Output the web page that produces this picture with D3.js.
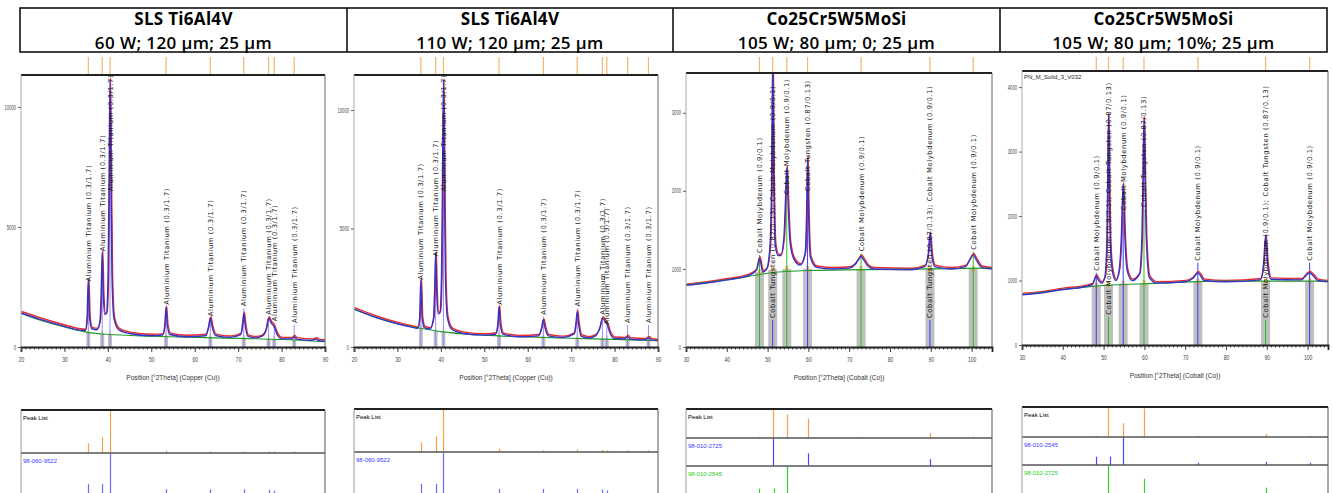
<!DOCTYPE html>
<html>
<head>
<meta charset="utf-8">
<script src="https://cdn.jsdelivr.net/npm/d3@7"></script>
<style>
  body { margin: 0; background: #fff; }
  svg { display: block; }
</style>
</head>
<body>
<div id="viz"></div>
<script>
//-------Header texts-----------
var headTitles = ['SLS Ti6Al4V', 'SLS Ti6Al4V', 'Co25Cr5W5MoSi', 'Co25Cr5W5MoSi'];
var headParams = ['60 W; 120 µm; 25 µm', '110 W; 120 µm; 25 µm', '105 W; 80 µm; 0; 25 µm', '105 W; 80 µm; 10%; 25 µm'];

//-------Panel 1: SLS Ti6Al4V 60 W-----------
var p1XTicks = [20, 30, 40, 50, 60, 70, 80, 90];
var p1YTicks = [0, 5000, 10000];
var p1Profile = [[20,1420],[25,1120],[30,860],[33,720],[34.8,680],[35.2,1200],[35.5,2800],[35.8,1200],[36.3,760],[37.5,720],
  [38.2,1100],[38.45,2200],[38.7,3950],[38.95,2200],[39.3,1350],[39.7,1400],[40.05,3000],[40.3,7500],[40.5,11150],[40.7,7500],
  [40.95,3000],[41.4,1200],[42.5,720],[45,560],[50,470],[52.6,500],[53.1,900],[53.4,1650],[53.7,900],[54.3,520],[58,430],
  [62.5,470],[63.2,850],[63.6,1200],[64.0,850],[64.8,480],[68,400],[70.6,520],[71.0,950],[71.3,1400],[71.6,950],[72.2,450],
  [74,380],[75.5,450],[76.4,700],[77.0,1200],[77.6,1000],[78.3,850],[78.9,550],[80,340],[82.3,340],[82.9,420],[83.5,330],
  [87,280],[87.9,330],[88.6,260],[90,240]];
var p1Background = [[20,1400],[25,1080],[30,830],[35,620],[40,530],[50,450],[60,400],[70,360],[80,310],[90,220]];
var p1Peaks = [35.5, 38.7, 40.5, 53.4, 63.6, 71.3, 77.0, 78.3, 82.9];
var p1LabelAt = [2650, 3900, 6400, 1680, 1200, 1610, 1260, 990, 920];
var p1BarTop = [620, 570, 540, 470, 430, 380, 350, 340, 310];
var p1Labels = p1Peaks.map(function() { return 'Aluminium Titanium (0.3/1.7)'; });
var p1ListI = [23, 37, 100, 6, 4, 4, 4, 3, 2];
var p1RefPos = [35.5, 38.7, 40.5, 53.4, 63.6, 71.3, 77.0, 78.3];
var p1RefI = [34, 34, 100, 23, 23, 23, 22, 20];

//-------Panel 2: SLS Ti6Al4V 110 W-----------
var p2XTicks = [20, 30, 40, 50, 60, 70, 80, 90];
var p2YTicks = [0, 5000, 10000];
var p2Profile = [[20,1600],[25,1250],[30,980],[33,850],[34.7,790],[35.1,1200],[35.4,2830],[35.7,1200],[36.2,820],[37.5,760],
  [38.3,1200],[38.55,2300],[38.8,3970],[39.05,2300],[39.4,1400],[39.8,1450],[40.15,3000],[40.4,7500],[40.6,11270],[40.8,7500],
  [41.05,3000],[41.5,1250],[42.5,750],[45,580],[50,500],[52.6,540],[53.1,950],[53.4,1700],[53.7,950],[54.3,540],[58,430],
  [62.5,470],[63.2,800],[63.6,1140],[64.0,800],[64.8,470],[68,400],[70.7,550],[71.1,1000],[71.4,1490],[71.7,1000],[72.3,460],
  [74,380],[75.5,460],[76.6,800],[77.2,1220],[77.8,1100],[78.4,900],[79.0,560],[80,360],[82.3,340],[83.0,435],[83.6,330],
  [87.1,300],[87.8,390],[88.5,290],[90,270]];
var p2Background = [[20,1600],[25,1250],[30,980],[35,800],[40,650],[50,500],[60,420],[70,370],[80,320],[90,270]];
var p2Peaks = [35.4, 38.8, 40.6, 53.4, 63.6, 71.4, 77.2, 78.2, 83.0, 87.8];
var p2LabelAt = [2755, 3740, 6480, 1700, 1280, 1630, 1280, 860, 930, 930];
var p2BarTop = [800, 680, 650, 500, 440, 380, 350, 340, 310, 290];
var p2Labels = p2Peaks.map(function() { return 'Aluminium Titanium (0.3/1.7)'; });
var p2ListI = [23, 37, 100, 8, 4, 6, 5, 3, 2, 2];
var p2RefPos = [35.4, 38.8, 40.6, 53.4, 63.6, 71.4, 77.2, 78.2];
var p2RefI = [34, 34, 100, 23, 23, 23, 22, 20];

//-------Panel 3: Co25Cr5W5MoSi 0-----------
var p3XTicks = [30, 40, 50, 60, 70, 80, 90, 100];
var p3YTicks = [0, 1000, 2000, 3000];
var p3Profile = [[30,790],[35,820],[40,860],[45,910],[47.2,980],[47.7,1080],[48.0,1140],[48.3,1080],[48.8,960],[49.8,1000],
  [50.6,1300],[51.0,2200],[51.25,3700],[51.5,2200],[51.9,1300],[52.6,1170],[53.2,1170],[54.0,1400],[54.4,1900],[54.7,2300],
  [55.0,1900],[55.5,1350],[56.5,1120],[58,1050],[59.2,1200],[59.55,1700],[59.8,2430],[60.05,1700],[60.5,1150],[62,1020],
  [66,1000],[70,1010],[71.5,1060],[72.3,1120],[72.9,1160],[73.5,1120],[74.5,1040],[76,1000],[85,990],[88.5,1030],[89.4,1200],
  [89.8,1460],[90.2,1200],[91,1030],[95,1000],[98.5,1030],[99.6,1120],[100.4,1180],[101.2,1110],[102.5,1020],[105,1000]];
var p3Background = [[30,795],[40,860],[45,900],[50,945],[60,980],[80,995],[105,1010]];
var p3Peaks = [48.0, 51.25, 54.7, 59.8, 72.9, 89.8, 100.4];
var p3LabelAt = [1180, 346, 1927, 1970, 1200, 346, 1220];
var p3BarTop = [960, 990, 1000, 1000, 1000, 1000, 1000];
var p3RefColor = ['g', 'b', 'g', 'b', 'g', 'b', 'g'];
var p3Labels = ['Cobalt Molybdenum (0.9/0.1)', 'Cobalt Tungsten (0.87/0.13); Cobalt Molybdenum (0.9/0.1)',
  'Cobalt Molybdenum (0.9/0.1)', 'Cobalt Tungsten (0.87/0.13)', 'Cobalt Molybdenum (0.9/0.1)',
  'Cobalt Tungsten (0.87/0.13); Cobalt Molybdenum (0.9/0.1)', 'Cobalt Molybdenum (0.9/0.1)'];
var p3ListI = [4, 100, 83, 69, 3, 17, 5];
var p3BluePos = [51.25, 59.8, 89.8];
var p3BlueI = [100, 46, 25];
var p3GreenPos = [48.0, 51.5, 54.7, 72.9, 89.8, 100.4];
var p3GreenI = [25, 25, 100, 5, 5, 5];

//-------Panel 4: Co25Cr5W5MoSi 10%-----------
var p4XTicks = [30, 40, 50, 60, 70, 80, 90, 100];
var p4YTicks = [0, 1000, 2000, 3000, 4000];
var p4Profile = [[30,780],[35,810],[40,860],[45,900],[47.3,940],[47.9,1040],[48.2,1070],[48.6,1020],[49.5,960],[50.3,1050],
  [50.8,1600],[51.0,2500],[51.2,3570],[51.4,2500],[51.7,1500],[52.3,1100],[53.0,1000],[53.8,1150],[54.3,1600],[54.8,2500],
  [55.2,1700],[55.8,1150],[57,1000],[58.8,1100],[59.4,1700],[59.65,2600],[59.9,3520],[60.15,2600],[60.5,1600],[61.2,1050],
  [63,960],[70,980],[71.8,1030],[72.6,1090],[73.1,1120],[73.7,1080],[74.6,1000],[80,980],[88.4,1010],[89.2,1250],[89.7,1690],
  [90.2,1250],[91,1020],[98.5,1010],[99.6,1080],[100.5,1120],[101.4,1070],[102.5,1000],[105,980]];
var p4Background = [[30,780],[40,860],[47,910],[60,950],[80,990],[105,990]];
var p4Peaks = [48.2, 51.2, 54.8, 59.9, 73.1, 89.7, 100.5];
var p4LabelAt = [1120, 440, 2060, 2110, 1275, 390, 1275];
var p4BarTop = [920, 940, 950, 960, 980, 990, 990];
var p4RefColor = ['b', 'g', 'b', 'g', 'b', 'g', 'b'];
var p4Labels = ['Cobalt Molybdenum (0.9/0.1)', 'Cobalt Molybdenum (0.9/0.1); Cobalt Tungsten (0.87/0.13)',
  'Cobalt Molybdenum (0.9/0.1)', 'Cobalt Tungsten (0.87/0.13)', 'Cobalt Molybdenum (0.9/0.1)',
  'Cobalt Molybdenum (0.9/0.1); Cobalt Tungsten (0.87/0.13)', 'Cobalt Molybdenum (0.9/0.1)'];
var p4ListI = [3, 100, 47, 97, 4, 10, 3];
var p4BluePos = [48.2, 51.5, 54.8, 73.1, 89.7, 100.5];
var p4BlueI = [30, 30, 100, 8, 12, 8];
var p4GreenPos = [51.2, 59.9, 89.7];
var p4GreenI = [100, 55, 25];

//---------------------------------
var width = 1333,
    height = 493;

var refColors = { b: '#3a3aff', g: '#22c022' };

var svg = d3.select('#viz')
  .append('svg')
    .attr('width', width)
    .attr('height', height);

var panels = [
  { id: 1, left: 21, right: 325, top: 75, bottom: 347, xDomain: [20, 90], yMax: 11330,
    xTicks: p1XTicks, yTicks: p1YTicks, profile: p1Profile, background: p1Background, peaks: p1Peaks,
    labelAt: p1LabelAt, barTop: p1BarTop, labels: p1Labels, barHalf: 0.45, refColor: null,
    axisTitle: 'Position [°2Theta] (Copper (Cu))',
    list: { top: 410, edges: [453, 500], sections: [
      { name: 'Peak List', color: '#000', stick: '#f3a24a', pos: p1Peaks, val: p1ListI },
      { name: '98-060-9522', color: '#3a3aff', stick: '#6a6aff', pos: p1RefPos, val: p1RefI }] } },
  { id: 2, left: 354, right: 658, top: 75, bottom: 347, xDomain: [20, 90], yMax: 11480,
    xTicks: p2XTicks, yTicks: p2YTicks, profile: p2Profile, background: p2Background, peaks: p2Peaks,
    labelAt: p2LabelAt, barTop: p2BarTop, labels: p2Labels, barHalf: 0.45, refColor: null,
    axisTitle: 'Position [°2Theta] (Copper (Cu))',
    list: { top: 409, edges: [452, 500], sections: [
      { name: 'Peak List', color: '#000', stick: '#f3a24a', pos: p2Peaks, val: p2ListI },
      { name: '98-060-9522', color: '#3a3aff', stick: '#6a6aff', pos: p2RefPos, val: p2RefI }] } },
  { id: 3, left: 686, right: 992, top: 73, bottom: 347, xDomain: [30, 105], yMax: 3510,
    xTicks: p3XTicks, yTicks: p3YTicks, profile: p3Profile, background: p3Background, peaks: p3Peaks,
    labelAt: p3LabelAt, barTop: p3BarTop, labels: p3Labels, barHalf: 1.1, refColor: p3RefColor,
    axisTitle: 'Position [°2Theta] (Cobalt (Co))',
    list: { top: 409, edges: [438, 466, 496], sections: [
      { name: 'Peak List', color: '#000', stick: '#f3a24a', pos: p3Peaks, val: p3ListI },
      { name: '98-010-2725', color: '#3a3aff', stick: '#4848ff', pos: p3BluePos, val: p3BlueI },
      { name: '98-010-2545', color: '#22d022', stick: '#30d030', pos: p3GreenPos, val: p3GreenI }] } },
  { id: 4, left: 1022, right: 1328, top: 71, bottom: 345, xDomain: [30, 105], yMax: 4250,
    xTicks: p4XTicks, yTicks: p4YTicks, profile: p4Profile, background: p4Background, peaks: p4Peaks,
    labelAt: p4LabelAt, barTop: p4BarTop, labels: p4Labels, barHalf: 1.1, refColor: p4RefColor,
    axisTitle: 'Position [°2Theta] (Cobalt (Co))', note: 'PN_M_Solid_3_V032',
    list: { top: 407, edges: [437, 465, 495], sections: [
      { name: 'Peak List', color: '#000', stick: '#f3a24a', pos: p4Peaks, val: p4ListI },
      { name: '98-010-2545', color: '#3a3aff', stick: '#4848ff', pos: p4BluePos, val: p4BlueI },
      { name: '98-010-2725', color: '#22d022', stick: '#30d030', pos: p4GreenPos, val: p4GreenI }] } }
];

//------Header row-----------
var headEdges = [20, 347, 673, 1000, 1327];
var head = svg.append('g').attr('id', 'header');
head.append('rect')
    .attr('x', headEdges[0]).attr('y', 8)
    .attr('width', headEdges[4] - headEdges[0]).attr('height', 44)
    .style('fill', 'none').style('stroke', '#111').style('stroke-width', '1.6px');
head.selectAll('line.div')
  .data(headEdges.slice(1, 4))
  .enter().append('line')
    .attr('x1', (d)=>d).attr('x2', (d)=>d).attr('y1', 8).attr('y2', 52)
    .style('stroke', '#111').style('stroke-width', '1.6px');
headTitles.forEach((t, i)=>{
  var cx = (headEdges[i] + headEdges[i + 1]) / 2;
  head.append('text').attr('x', cx).attr('y', 25).attr('text-anchor', 'middle')
    .style('font-family', '"Open Sans", sans-serif').style('font-size', '17px').style('font-weight', 700)
    .style('letter-spacing', '0.3px')
    .text(t);
  head.append('text').attr('x', cx).attr('y', 48.5).attr('text-anchor', 'middle')
    .style('font-family', '"Open Sans", sans-serif').style('font-size', '17px').style('font-weight', 600)
    .style('letter-spacing', '0.4px')
    .text(headParams[i]);
});

//------Diffraction panels-----------
panels.forEach(drawPanel);
panels.forEach(drawList);

function drawPanel(p) {
  var xScale = d3.scaleLinear().domain(p.xDomain).range([p.left, p.right]);
  var yScale = d3.scaleLinear().domain([0, p.yMax]).range([p.bottom, p.top]);
  var g = svg.append('g').attr('id', 'panel' + p.id);

  // orange peak markers above the frame
  g.append('g').selectAll('line')
    .data(p.peaks).enter().append('line')
      .attr('x1', (d)=>xScale(d)).attr('x2', (d)=>xScale(d))
      .attr('y1', 57).attr('y2', p.top)
      .style('stroke', '#f7b46c').style('stroke-width', '1.2px');

  svg.append('clipPath').attr('id', 'clip' + p.id)
    .append('rect')
      .attr('x', p.left).attr('y', p.top)
      .attr('width', p.right - p.left).attr('height', p.bottom - p.top);
  var inner = g.append('g').attr('clip-path', 'url(#clip' + p.id + ')');

  // grey peak areas
  var barW = xScale(p.xDomain[0] + 2 * p.barHalf) - xScale(p.xDomain[0]);
  inner.append('g').selectAll('rect')
    .data(p.peaks).enter().append('rect')
      .attr('x', (d)=>xScale(d) - barW / 2)
      .attr('width', barW)
      .attr('y', (d, i)=>yScale(p.barTop[i]))
      .attr('height', (d, i)=>yScale(0) - yScale(p.barTop[i]))
      .style('fill', '#a4a4a4').style('opacity', 0.7);
  inner.append('g').selectAll('rect')
    .data(p.peaks).enter().append('rect')
      .attr('x', (d)=>xScale(d) - barW / 6)
      .attr('width', barW / 3)
      .attr('y', (d, i)=>yScale(p.barTop[i]) - 3)
      .attr('height', 6)
      .style('fill', '#f0a040').style('opacity', 0.7);

  // reference lines at peaks
  inner.append('g').selectAll('line')
    .data(p.peaks).enter().append('line')
      .attr('x1', (d)=>xScale(d)).attr('x2', (d)=>xScale(d))
      .attr('y1', yScale(0)).attr('y2', (d, i)=>yScale(p.labelAt[i]))
      .style('stroke', (d, i)=>p.refColor ? refColors[p.refColor[i]] : '#9090ff')
      .style('stroke-width', '1px');

  var line = d3.line()
    .x((d)=>xScale(d[0]))
    .y((d)=>yScale(d[1]))
    .curve(d3.curveMonotoneX);

  inner.append('path').datum(p.profile)
    .attr('d', line).attr('transform', 'translate(0.6,-1.4)')
    .style('fill', 'none').style('stroke', '#ee2a2a').style('stroke-width', '1.4px');
  inner.append('path').datum(p.background)
    .attr('d', line)
    .style('fill', 'none').style('stroke', '#1f9a2a').style('stroke-width', '1.1px');
  inner.append('path').datum(p.profile)
    .attr('d', line)
    .style('fill', 'none').style('stroke', '#3434c8').style('stroke-width', '1.4px');

  // peak labels, vertical
  inner.append('g').selectAll('text')
    .data(p.peaks).enter().append('text')
      .attr('transform', (d, i)=>'translate(' + (xScale(d) + 2.5) + ',' + (yScale(p.labelAt[i]) - 2) + ') rotate(-90)')
      .style('font-family', '"DejaVu Sans", sans-serif').style('font-size', '6.8px')
      .style('letter-spacing', '0.6px').style('fill', '#1a1a1a')
      .text((d, i)=>p.labels[i]);

  if (p.note) {
    g.append('text').attr('x', p.left + 2).attr('y', p.top + 8)
      .style('font-family', '"Liberation Sans", sans-serif').style('font-size', '6px').style('fill', '#222')
      .text(p.note);
  }

  // frame
  g.append('line').attr('x1', p.left).attr('x2', p.right).attr('y1', p.top).attr('y2', p.top)
    .style('stroke', '#222').style('stroke-width', '2px');
  g.append('line').attr('x1', p.right).attr('x2', p.right).attr('y1', p.top).attr('y2', p.bottom)
    .style('stroke', '#666').style('stroke-width', '1px');
  g.append('line').attr('x1', p.left).attr('x2', p.left).attr('y1', p.top).attr('y2', p.bottom)
    .style('stroke', '#aaa').style('stroke-width', '1px');

  //------axes-----------
  var yAxis = d3.axisLeft(yScale).tickValues(p.yTicks).tickSize(3).tickPadding(2).tickFormat(d3.format('d'));
  var gY = g.append('g').attr('transform', 'translate(' + p.left + ',0)').call(yAxis);
  gY.select('.domain').remove();
  gY.selectAll('line').style('stroke', '#666');
  gY.selectAll('text')
    .attr('textLength', (d)=>String(d).length * 2.3)
    .attr('lengthAdjust', 'spacingAndGlyphs')
    .style('font-family', '"Liberation Sans", sans-serif').style('font-size', '6.5px').style('fill', '#444');

  var minor = d3.range(p.xDomain[0], p.xDomain[1] + 0.01, 1);
  var gMinor = g.append('g').attr('transform', 'translate(0,' + p.bottom + ')')
    .call(d3.axisBottom(xScale).tickValues(minor).tickSize(2.5).tickFormat(''));
  gMinor.select('.domain').remove();
  gMinor.selectAll('line').style('stroke', '#444');

  var xAxis = d3.axisBottom(xScale).tickValues(p.xTicks).tickSize(5).tickPadding(5).tickFormat(d3.format('d'));
  var gX = g.append('g').attr('transform', 'translate(0,' + p.bottom + ')').call(xAxis);
  gX.select('.domain').style('stroke', '#222').style('stroke-width', '1.8px');
  gX.selectAll('line').style('stroke', '#444');
  gX.selectAll('text')
    .attr('textLength', (d)=>String(d).length * 2.8)
    .attr('lengthAdjust', 'spacingAndGlyphs')
    .style('font-family', '"Liberation Sans", sans-serif').style('font-size', '6.5px').style('fill', '#444');

  g.append('text')
    .attr('x', (p.left + p.right) / 2).attr('y', p.bottom + 33)
    .attr('text-anchor', 'middle')
    .style('font-family', '"Liberation Sans", sans-serif').style('font-size', '6.5px').style('fill', '#333')
    .text(p.axisTitle);
}

//------Peak list strips-----------
function drawList(p) {
  var xScale = d3.scaleLinear().domain(p.xDomain).range([p.left, p.right]);
  var L = p.list;
  var g = svg.append('g').attr('id', 'list' + p.id);
  var edges = [L.top].concat(L.edges);

  L.sections.forEach((s, k)=>{
    var y0 = edges[k], y1 = edges[k + 1];
    var h = d3.scaleLinear().domain([0, 100]).range([y1, y0 + 0.5]);
    g.append('g').selectAll('line')
      .data(s.pos).enter().append('line')
        .attr('x1', (d)=>Math.round(xScale(d)) + 0.5).attr('x2', (d)=>Math.round(xScale(d)) + 0.5)
        .attr('y1', y1).attr('y2', (d, i)=>h(Math.max(s.val[i], 4)))
        .style('stroke', s.stick).style('stroke-width', '1.2px');
    g.append('text').attr('x', p.left + 2).attr('y', y0 + 10)
      .style('font-family', '"Liberation Sans", sans-serif').style('font-size', '6px')
      .style('fill', s.color)
      .text(s.name);
  });

  g.append('line').attr('x1', p.left).attr('x2', p.right).attr('y1', L.top).attr('y2', L.top)
    .style('stroke', '#222').style('stroke-width', '2px');
  g.selectAll('line.sep')
    .data(L.edges.slice(0, -1)).enter().append('line')
      .attr('x1', p.left).attr('x2', p.right).attr('y1', (d)=>d).attr('y2', (d)=>d)
      .style('stroke', '#555').style('stroke-width', '1.4px');
  g.append('line').attr('x1', p.left).attr('x2', p.left).attr('y1', L.top).attr('y2', height)
    .style('stroke', '#999').style('stroke-width', '1px');
  g.append('line').attr('x1', p.right).attr('x2', p.right).attr('y1', L.top).attr('y2', height)
    .style('stroke', '#555').style('stroke-width', '1px');
}
</script>
</body>
</html>
